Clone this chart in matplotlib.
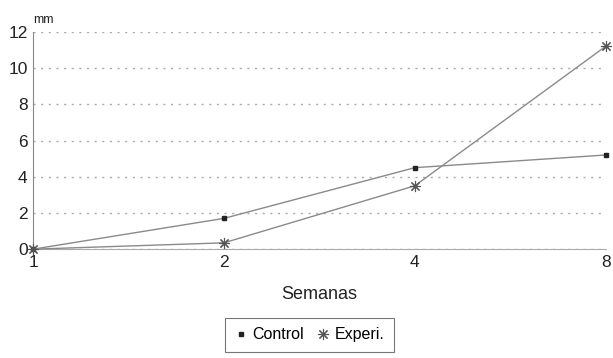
import matplotlib
matplotlib.use("Agg")
import matplotlib.pyplot as plt

plt.rcParams["font.family"] = ["Liberation Sans", "DejaVu Sans"]

semanas = ["1", "2", "4", "8"]
control = [0.0, 1.7, 4.5, 5.2]
experi = [0.0, 0.35, 3.5, 11.2]
yticks = [0, 2, 4, 6, 8, 10, 12]

fig = plt.figure(figsize=(6.13, 3.58), dpi=100)
ax = fig.add_axes([0.054, 0.304, 0.934, 0.607])

x = range(len(semanas))
ax.plot(x, control, color="#8a8a8a", lw=1.0, marker="s", ms=3,
        mfc="#222222", mec="#222222", label="Control", clip_on=False, zorder=3)
ax.plot(x, experi, color="#8a8a8a", lw=1.0, marker=(8, 2, 0), ms=8,
        mfc="#555555", mec="#555555", mew=0.8, label="Experi.", clip_on=False, zorder=3)

ax.set_xlim(0, len(semanas) - 1)
ax.set_ylim(0, 12)
ax.set_xticks(list(x))
ax.set_xticklabels(semanas)
ax.set_yticks(yticks)
ax.tick_params(length=0, labelsize=12.5, colors="#222222", pad=4)
ax.yaxis.grid(True, ls=(0, (1.5, 4)), color="#aaaaaa", lw=1.0)
ax.set_axisbelow(True)
for s in ["top", "right"]:
    ax.spines[s].set_visible(False)
ax.spines["left"].set_color("#888888")
ax.spines["bottom"].set_color("#aaaaaa")

ax.set_xlabel("Semanas", fontsize=13, color="#222222", labelpad=12)
fig.text(0.054, 0.935, "mm", fontsize=9, color="#222222", ha="left")

leg = fig.legend(loc="center", bbox_to_anchor=(0.505, 0.065), ncol=2,
                 fontsize=11.5, frameon=True, fancybox=False, edgecolor="#555555",
                 handlelength=0.8, handletextpad=0.3, columnspacing=0.8,
                 borderpad=0.6, borderaxespad=0)
leg.get_frame().set_linewidth(0.8)
for h in leg.get_lines():
    h.set_linestyle("none")

fig.savefig("out.png", dpi=100)
